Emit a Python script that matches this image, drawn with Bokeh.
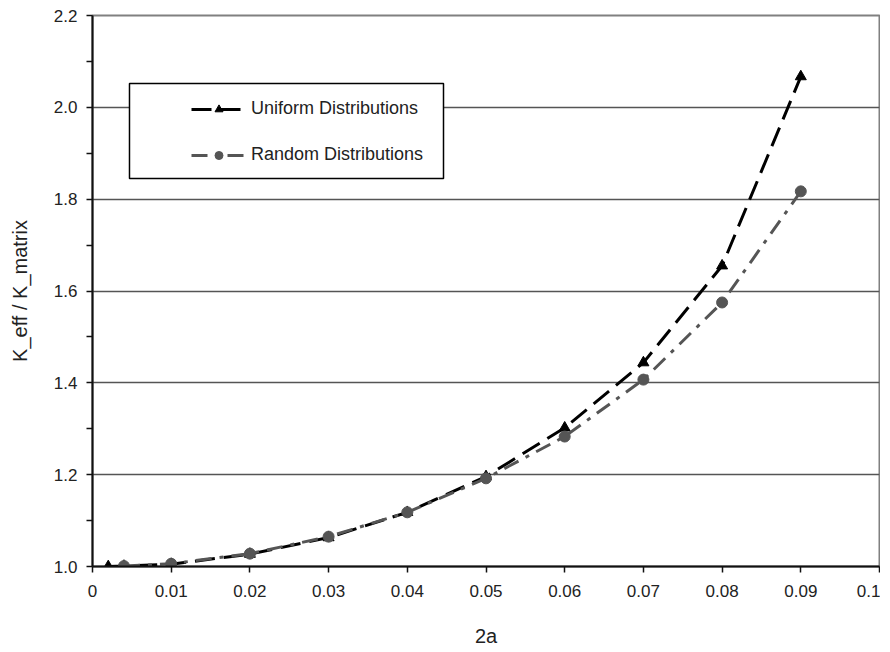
from bokeh.plotting import figure
from bokeh.models import (Range1d, FixedTicker, Legend, LegendItem, BoxAnnotation)
from bokeh.embed import file_html
from bokeh.resources import INLINE

# ---- data ----
uniform_x = [0.002, 0.004, 0.01, 0.02, 0.03, 0.04, 0.05, 0.06, 0.07, 0.08, 0.09]
uniform_y = [1.000, 1.001, 1.005, 1.027, 1.063, 1.118, 1.196, 1.302, 1.444, 1.655, 2.067]
random_x = [0.004, 0.01, 0.02, 0.03, 0.04, 0.05, 0.06, 0.07, 0.08, 0.09]
random_y = [1.001, 1.006, 1.028, 1.065, 1.118, 1.192, 1.283, 1.407, 1.575, 1.817]

x_ticks = [0.0, 0.01, 0.02, 0.03, 0.04, 0.05, 0.06, 0.07, 0.08, 0.09, 0.1]
x_tick_labels = ["0", "0.01", "0.02", "0.03", "0.04", "0.05", "0.06", "0.07", "0.08", "0.09", "0.1"]
y_ticks = [1.0, 1.2, 1.4, 1.6, 1.8, 2.0, 2.2]
y_tick_labels = ["1.0", "1.2", "1.4", "1.6", "1.8", "2.0", "2.2"]
y_minor_ticks = [1.1, 1.3, 1.5, 1.7, 1.9, 2.1]

series_labels = ["Uniform Distributions", "Random Distributions"]
x_label = "2a"
y_label = "K_eff / K_matrix"

FONT = "Liberation Sans"

p = figure(width=880, height=652, output_backend="svg", toolbar_location=None,
           x_range=Range1d(0, 0.1), y_range=Range1d(1.0, 2.2),
           min_border_left=92, min_border_right=1, min_border_top=15, min_border_bottom=86)

p.background_fill_color = "white"
p.border_fill_color = "white"
p.outline_line_color = "#808080"
p.outline_line_width = 2

# grid
p.xgrid.grid_line_color = None
p.ygrid.ticker = FixedTicker(ticks=y_ticks)
p.ygrid.grid_line_color = "#555555"
p.ygrid.grid_line_width = 1.3

# x axis
xa = p.xaxis[0]
xa.ticker = FixedTicker(ticks=x_ticks)
xa.major_label_overrides = {t: l for t, l in zip(x_ticks, x_tick_labels)}
xa.axis_line_color = "#111111"
xa.axis_line_width = 2
xa.major_tick_line_color = "#111111"
xa.major_tick_line_width = 1.5
xa.major_tick_out = 6
xa.major_tick_in = 0
xa.minor_tick_line_color = None
xa.major_label_standoff = 12
xa.major_label_text_font = FONT
xa.major_label_text_font_size = "17px"
xa.major_label_text_color = "#222222"
xa.axis_label = x_label
xa.axis_label_text_font = FONT
xa.axis_label_text_font_size = "20px"
xa.axis_label_text_font_style = "normal"
xa.axis_label_text_color = "#222222"
xa.axis_label_standoff = 25

# y axis
ya = p.yaxis[0]
ya.ticker = FixedTicker(ticks=y_ticks, minor_ticks=y_minor_ticks)
ya.major_label_overrides = {t: l for t, l in zip(y_ticks, y_tick_labels)}
ya.axis_line_color = "#111111"
ya.axis_line_width = 2
ya.major_tick_line_color = "#111111"
ya.major_tick_line_width = 1.5
ya.major_tick_out = 6
ya.major_tick_in = 0
ya.minor_tick_line_color = "#111111"
ya.minor_tick_line_width = 1.5
ya.minor_tick_out = 6
ya.minor_tick_in = 0
ya.major_label_standoff = 9
ya.major_label_text_font = FONT
ya.major_label_text_font_size = "17px"
ya.major_label_text_color = "#222222"
ya.axis_label = y_label
ya.axis_label_text_font = FONT
ya.axis_label_text_font_size = "20px"
ya.axis_label_text_font_style = "normal"
ya.axis_label_text_color = "#222222"
ya.axis_label_standoff = 20

# series
u_line = p.line(uniform_x, uniform_y, line_color="black", line_width=3, line_dash="20 9")
u_mark = p.scatter(uniform_x, uniform_y, marker="triangle", size=11,
                   fill_color="black", line_color="black")
r_line = p.line(random_x, random_y, line_color="#555555", line_width=3, line_dash="16 8 4 8")
r_mark = p.scatter(random_x, random_y, marker="circle", size=11,
                   fill_color="#555555", line_color="#555555")

# legend box (placed in data units)
box = BoxAnnotation(left=0.0047, right=0.0446, bottom=1.845, top=2.052,
                    fill_color="white", fill_alpha=1.0,
                    line_color="black", line_alpha=1.0, line_width=1.5, level="annotation")
p.add_layout(box)

legend = Legend(items=[LegendItem(label=series_labels[0], renderers=[u_line, u_mark]),
                       LegendItem(label=series_labels[1], renderers=[r_line, r_mark])],
                location=(99, 401), orientation="vertical",
                background_fill_alpha=0, border_line_alpha=0,
                padding=0, margin=0, spacing=25,
                glyph_width=55, glyph_height=20, label_height=20,
                label_standoff=5,
                label_text_font=FONT, label_text_font_size="18px",
                label_text_color="#222222")
p.add_layout(legend, "center")

open("out.html", "w").write(file_html(p, INLINE))
